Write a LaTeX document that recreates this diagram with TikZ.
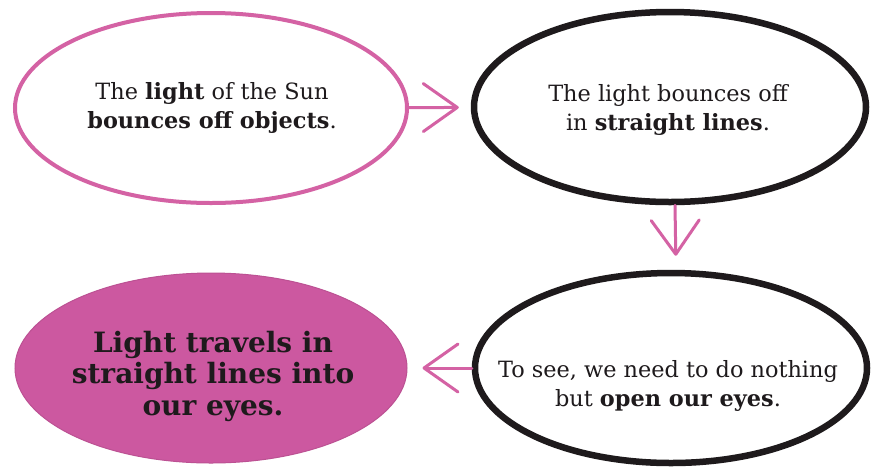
\documentclass[tikz,border=0pt]{standalone}
\usepackage{fontspec}
\setmainfont{DejaVu Serif}
\usetikzlibrary{shapes.geometric,arrows.meta}
\definecolor{pinkline}{RGB}{212,98,164}
\definecolor{pinkfill}{RGB}{204,88,160}
\definecolor{inkc}{RGB}{30,26,28}
\begin{document}
\begin{tikzpicture}[x=1pt,y=-1pt,
  bubble/.style={ellipse, minimum width=392pt, minimum height=190pt, inner sep=0pt},
  pinkring/.style={bubble, draw=pinkline, line width=4pt},
  blackring/.style={bubble, draw=inkc, line width=6.5pt},
  pinkblob/.style={bubble, fill=pinkfill, draw=pinkfill!92!black, line width=1pt},
  txt/.style={align=center, text=inkc, inner sep=0pt, font=\fontsize{22.4}{28.5}\selectfont},
  bigtxt/.style={align=center, text=inkc, inner sep=0pt, font=\bfseries\fontsize{28}{31.5}\selectfont},
  flow/.style={draw=pinkline, line width=3pt, line cap=round,
    -{Straight Barb[length=34pt, width=48pt, round]}}
]
\useasboundingbox (0,0) rectangle (874,467);
\fill[white] (0,0) rectangle (874,467);

\node[pinkring]  (e1) at (211,108) {};
\node[blackring] (e2) at (670,107) {};
\node[pinkblob]  (e3) at (211,368) {};
\node[blackring] (e4) at (671,368) {};

\node[txt] (t1) at (212,108) {The \textbf{light} of the Sun\\ \textbf{bounces off objects}.};
\node[txt] (t2) at (668,110) {The light bounces off\\ in \textbf{straight lines}.};
\node[bigtxt] (t3) at (213,376) {Light travels in\\ straight lines into\\ our eyes.};
\node[txt] (t4) at (668,386) {To see, we need to do nothing\\ but \textbf{open our eyes}.};

\draw[flow, shorten >=12pt] (e1) -- (e2);
\draw[flow, shorten >=14pt] ([xshift=5pt]e2.south) -- ([xshift=5pt]e4.north);
\draw[flow, shorten >=15pt] (e4) -- (e3);
\end{tikzpicture}
\end{document}
